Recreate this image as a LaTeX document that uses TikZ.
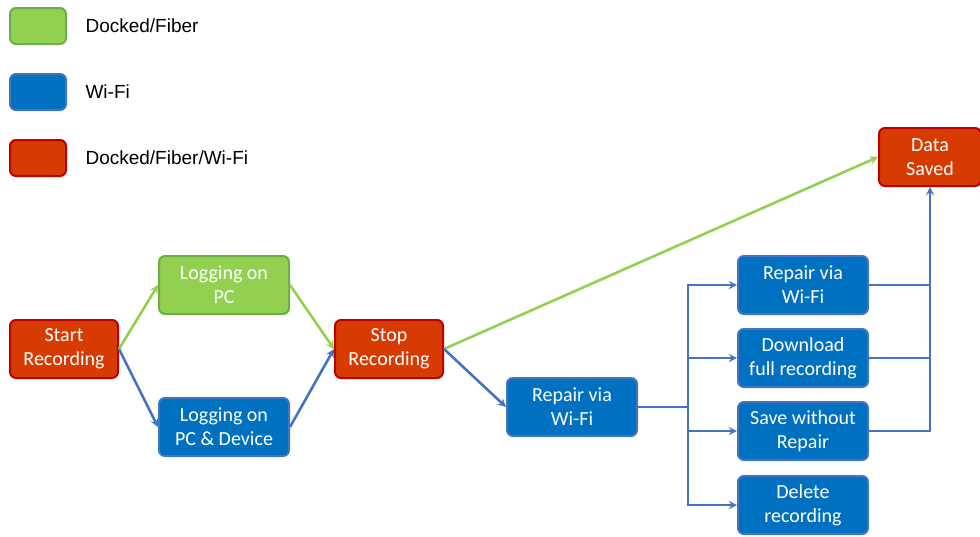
\documentclass[tikz,border=0pt]{standalone}
\usepackage{fontspec}
\setmainfont{Carlito}
\newfontfamily\keyfont{Liberation Sans}
\usetikzlibrary{arrows.meta}
\definecolor{dockfill}{HTML}{92D050}
\definecolor{dockedge}{HTML}{70AD47}
\definecolor{wififill}{HTML}{0070C0}
\definecolor{wifiedge}{HTML}{4472C4}
\definecolor{bothfill}{HTML}{D83B01}
\definecolor{bothedge}{HTML}{C00000}
\definecolor{dockline}{HTML}{92D050}
\definecolor{wifiline}{HTML}{4472C4}

\begin{document}
\begin{tikzpicture}[x=1pt,y=-1pt,
    box/.style={rounded corners=6pt,line width=2pt,align=center,text=white,inner sep=0pt,
      minimum width=130pt,minimum height=58pt,font=\fontsize{20}{24}\selectfont},
    dock/.style={box,fill=dockfill,draw=dockedge},
    wifi/.style={box,fill=wififill,draw=wifiedge},
    both/.style={box,fill=bothfill,draw=bothedge},
    keybox/.style={minimum width=56pt,minimum height=36pt},
    keytext/.style={anchor=west,font=\keyfont\fontsize{19}{22}\selectfont},
    dline/.style={line width=2.6pt,draw=dockline},
    wline/.style={line width=2.6pt,draw=wifiline}]
    \useasboundingbox(0,0)rectangle(980,536);
    % legend
    \node[dock,keybox](keydock)at(38,26){};
    \node[wifi,keybox](keywifi)at(38,92){};
    \node[both,keybox](keyboth)at(38,158){};
    \node[keytext](txtdock)at(82,26){Docked/Fiber};
    \node[keytext](txtwifi)at(82,92){Wi-Fi};
    \node[keytext](txtboth)at(82,158){Docked/Fiber/Wi-Fi};
    % flow
    \node[both,minimum width=108pt](start)at(64,349){Start\\Recording};
    \node[dock](logpc)at(224,285){Logging on\\PC};
    \node[wifi](logdev)at(224,427){Logging on\\PC \& Device};
    \node[both,minimum width=108pt](stop)at(389,349){Stop\\Recording};
    \node[wifi](repair)at(572,407){Repair via\\Wi-Fi};
    \node[wifi](repwifi)at(803,285){Repair via\\Wi-Fi};
    \node[wifi](download)at(803,358){Download\\full recording};
    \node[wifi](norepair)at(803,431){Save without\\Repair};
    \node[wifi](delete)at(803,505){Delete\\recording};
    \node[both,minimum width=102pt](saved)at(930,157){Data\\Saved};
    \coordinate(split)at(688,407);
    % connectors
    \draw[dline,->,>=stealth](start.east)--(logpc.west);
    \draw[wline,->,>=stealth](start.east)--(logdev.west);
    \draw[dline,->,>=stealth](logpc.east)--(stop.west);
    \draw[wline,->,>=stealth](logdev.east)--(stop.west);
    \draw[dline,->,>=stealth](stop.east)--(saved.west);
    \draw[wline,->,>=stealth](stop.east)--(repair.west);
    \draw[wline](repair.east)--(split);
    \draw[wline,->,>=stealth](split)|-(repwifi.west);
    \draw[wline,->,>=stealth](split)|-(download.west);
    \draw[wline,->,>=stealth](split)|-(norepair.west);
    \draw[wline,->,>=stealth](split)|-(delete.west);
    \draw[wline](repwifi.east)--(repwifi.east-|saved.south);
    \draw[wline](download.east)--(download.east-|saved.south);
    \draw[wline,->,>=stealth](norepair.east)-|(saved.south);
\end{tikzpicture}
\end{document}
